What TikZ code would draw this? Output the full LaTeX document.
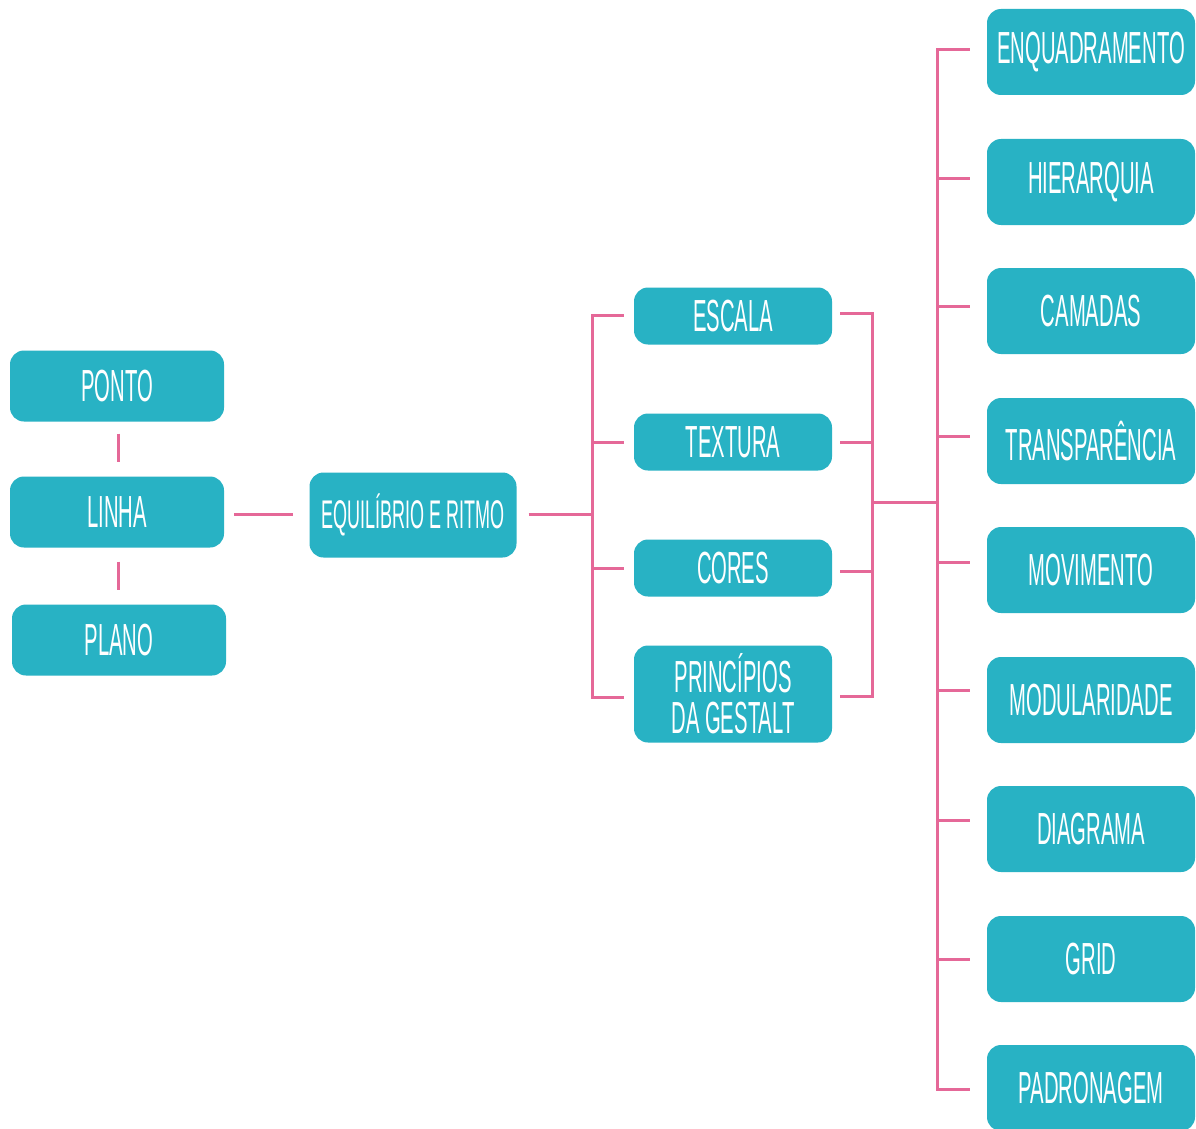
\documentclass[tikz,border=0pt]{standalone}
\usepackage{fontspec}
\setmainfont[FakeStretch=0.45]{Liberation Sans}
\definecolor{teal}{RGB}{40,178,196}
\definecolor{pinkline}{RGB}{229,104,152}
\begin{document}
\begin{tikzpicture}[x=1pt,y=-1pt,
  box/.style={fill=teal, rounded corners=14pt, text=white, inner sep=0pt,
    align=center, font=\fontsize{45}{41}\selectfont},
  lbox/.style={box, minimum width=214pt, minimum height=71pt},
  mbox/.style={box, minimum width=198pt, minimum height=57pt},
  rbox/.style={box, minimum width=208pt, minimum height=86pt},
  link/.style={draw=pinkline, line width=3pt}]
\useasboundingbox[fill=white] (0,0) rectangle (1196,1129);
% left column
\node[lbox] (ponto) at (117,386) {PONTO};
\node[lbox] (linha) at (117,512) {LINHA};
\node[lbox] (plano) at (119,640) {PLANO};
\node[box, minimum width=207pt, minimum height=85pt, font=\fontsize{40}{40}\selectfont] (eq) at (413,515) {EQUILÍBRIO E RITMO};
% middle column
\node[mbox] (escala) at (733,316) {ESCALA};
\node[mbox] (textura) at (733,442) {TEXTURA};
\node[mbox] (cores) at (733,568) {CORES};
\node[mbox, minimum height=97pt] (gestalt) at (733,694) {PRINCÍPIOS\\DA GESTALT};
% right column
\node[rbox] (enq) at (1091,52) {ENQUADRAMENTO};
\node[rbox] (hier) at (1091,182) {HIERARQUIA};
\node[rbox] (cam) at (1091,311) {CAMADAS};
\node[rbox] (transp) at (1091,441) {TRANSPARÊNCIA};
\node[rbox] (mov) at (1091,570) {MOVIMENTO};
\node[rbox] (mod) at (1091,700) {MODULARIDADE};
\node[rbox] (diag) at (1091,829) {DIAGRAMA};
\node[rbox] (grid) at (1091,959) {GRID};
\node[rbox] (padr) at (1091,1088) {PADRONAGEM};
% left connectors
\coordinate (v) at (118,0);
\draw[link] ([yshift=-12pt]v |- ponto.south) -- ([yshift=14pt]v |- linha.north);
\draw[link] ([yshift=-14pt]v |- linha.south) -- ([yshift=14pt]v |- plano.north);
\coordinate (h) at (0,514);
\draw[link] ([xshift=10pt]linha.east |- h) -- ([xshift=-16pt]eq.west |- h);
% bracket to middle column
\coordinate (b1) at (592,514);
\draw[link] ([xshift=12pt]eq.east |- b1) -- (b1);
\draw[link] ([xshift=-10pt]escala.west |- 0,315) -| (592,697) -- ([xshift=-10pt]gestalt.west |- 0,697);
\draw[link] (592,442) -- ([xshift=-10pt]textura.west);
\draw[link] (592,568) -- ([xshift=-10pt]cores.west);
% bracket from middle column
\draw[link] ([xshift=8pt]escala.east |- 0,313) -| (872,696) -- ([xshift=8pt]gestalt.east |- 0,696);
\draw[link] ([xshift=8pt]textura.east) -- (872,442);
\draw[link] ([xshift=8pt]cores.east |- 0,571) -- (872,571);
\coordinate (b2) at (937,502);
\draw[link] (872,502) -- (b2);
% right bracket
\draw[link] ([xshift=-17pt]enq.west |- 0,50) -| (937,1089) -- ([xshift=-17pt]padr.west |- 0,1089);
\foreach \n/\y in {hier/178, cam/306, transp/436, mov/562, mod/690, diag/820, grid/959}
  \draw[link] (937,\y) -- ([xshift=-17pt]\n.west |- 0,\y);
\end{tikzpicture}
\end{document}
